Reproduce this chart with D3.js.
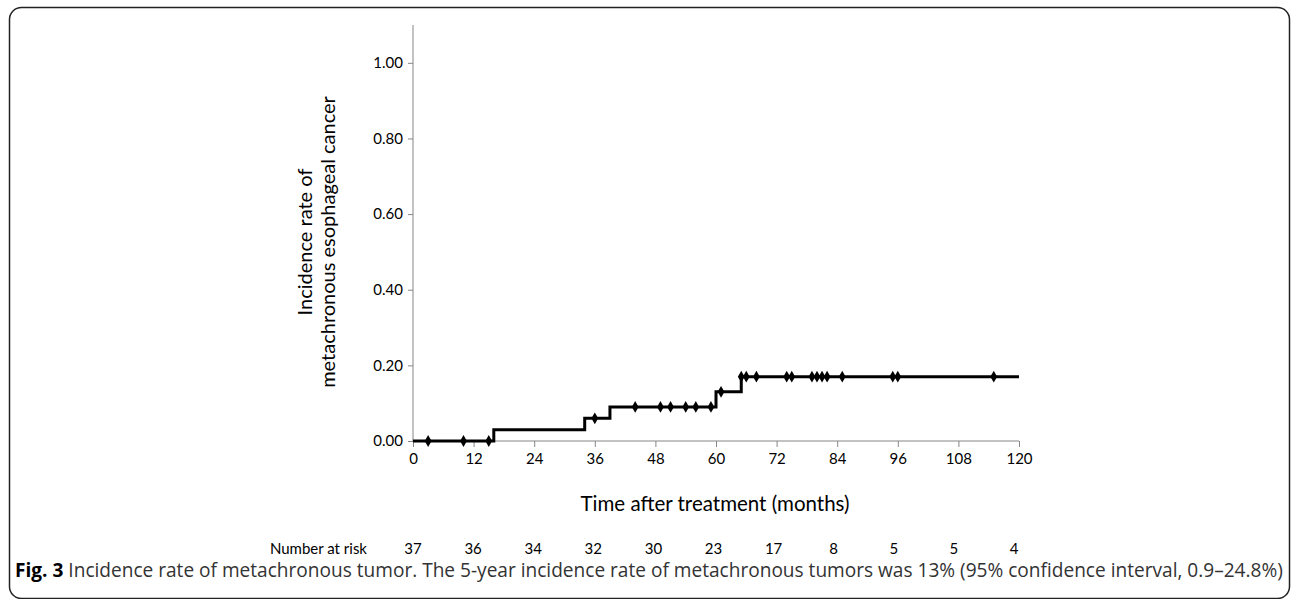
<!DOCTYPE html>
<html>
<head>
<meta charset="utf-8">
<script src="https://cdn.jsdelivr.net/npm/d3@7"></script>
<style>
  html, body { margin: 0; padding: 0; background: #fff; }
  svg { display: block; }
</style>
</head>
<body>
<svg id="chart" width="1292" height="599"></svg>
<script>
// ---- data ----
const stepTimes = [0, 16, 34, 39, 60, 65];
const stepValues = [0, 0.03, 0.06, 0.09, 0.13, 0.17];
const endTime = 120;
const censorTimes = [3, 10, 15, 36, 44, 49, 51, 54, 56, 59, 61, 65, 66, 68, 74, 75, 79, 80, 81, 82, 85, 95, 96, 115];
const xTicks = [0, 12, 24, 36, 48, 60, 72, 84, 96, 108, 120];
const yTicks = [0, 0.2, 0.4, 0.6, 0.8, 1.0];
const riskLabel = "Number at risk";
const riskCounts = [37, 36, 34, 32, 30, 23, 17, 8, 5, 5, 4];
const xTitle = "Time after treatment (months)";
const yTitleLines = ["Incidence rate of", "metachronous esophageal cancer"];
const captionBold = "Fig. 3";
const captionText = " Incidence rate of metachronous tumor. The 5-year incidence rate of metachronous tumors was 13% (95% confidence interval, 0.9\u201324.8%)";

// ---- layout ----
const svg = d3.select("#chart");
const chartFont = "Lato, 'Open Sans', sans-serif";
const axisColor = "#868686";

svg.append("rect")
  .attr("x", 9.5).attr("y", 7.5)
  .attr("width", 1280).attr("height", 591)
  .attr("rx", 12).attr("ry", 12)
  .attr("fill", "none").attr("stroke", "#222").attr("stroke-width", 1.5);

const x = d3.scaleLinear().domain([0, 120]).range([413, 1019]);
const y = d3.scaleLinear().domain([0, 1.1]).range([441, 25]);

// axes
const yAxis = d3.axisLeft(y).tickValues(yTicks).tickFormat(d3.format(".2f")).tickSize(5).tickPadding(5);
const gy = svg.append("g").attr("transform", `translate(${x(0)},0)`).call(yAxis);
gy.select(".domain").attr("d", `M0,${y(1.1)}V${y(0)}`);
const xAxis = d3.axisBottom(x).tickValues(xTicks).tickFormat(d3.format("d")).tickSize(6).tickPadding(6);
const gx = svg.append("g").attr("transform", `translate(0,${y(0)})`).call(xAxis);
gx.select(".domain").attr("d", `M${x(0)},0H${x(120)}`);
[gx, gy].forEach(g => {
  g.selectAll(".domain, .tick line").attr("stroke", axisColor).attr("stroke-width", 1);
  g.selectAll(".tick text").attr("fill", "#000").style("font-family", chartFont).style("font-size", "15px");
});

// step line
const pts = stepTimes.map((t, i) => [t, stepValues[i]]);
pts.push([endTime, stepValues[stepValues.length - 1]]);
const line = d3.line().x(d => x(d[0])).y(d => y(d[1])).curve(d3.curveStepAfter);
svg.append("path").datum(pts)
  .attr("d", line)
  .attr("fill", "none").attr("stroke", "#000").attr("stroke-width", 3)
  .attr("stroke-linejoin", "miter");

// censor marks
function valueAt(t) {
  let v = 0;
  stepTimes.forEach((s, i) => { if (t >= s) v = stepValues[i]; });
  return v;
}
const diamond = d3.symbol().type(d3.symbolDiamond).size(40);
svg.append("g").selectAll("path").data(censorTimes).join("path")
  .attr("transform", d => `translate(${x(d)},${y(valueAt(d))})`)
  .attr("d", diamond)
  .attr("fill", "#000");

// axis titles
svg.append("text").attr("x", 715).attr("y", 511).attr("text-anchor", "middle")
  .style("font-family", chartFont).style("font-size", "20.5px").text(xTitle);

yTitleLines.forEach((l, i) => {
  svg.append("text")
    .attr("transform", `translate(${312 + i * 23},242) rotate(-90)`)
    .attr("text-anchor", "middle")
    .style("font-family", chartFont).style("font-size", "20px")
    .text(l);
});

// number at risk
const rx = d3.scalePoint().domain(d3.range(riskCounts.length)).range([413, 1014]);
svg.append("text").attr("x", 367).attr("y", 554).attr("text-anchor", "end")
  .style("font-family", chartFont).style("font-size", "15px").text(riskLabel);
svg.append("g").selectAll("text").data(riskCounts).join("text")
  .attr("x", (d, i) => rx(i)).attr("y", 554).attr("text-anchor", "middle")
  .style("font-family", chartFont).style("font-size", "15px")
  .text(d => d);

// caption
const cap = svg.append("text").attr("x", 15).attr("y", 577)
  .style("font-family", "'Open Sans', sans-serif").style("font-size", "17px").attr("fill", "#333");
cap.append("tspan").style("font-weight", "bold").attr("fill", "#000").text(captionBold);
cap.append("tspan").text(captionText);
const targetW = 1268;
const w = cap.node().getComputedTextLength();
cap.style("font-size", (17 * targetW / w).toFixed(2) + "px");
</script>
</body>
</html>
